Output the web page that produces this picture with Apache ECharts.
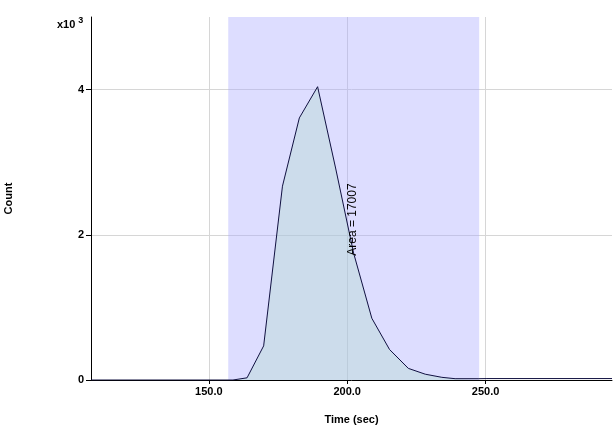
<!DOCTYPE html>
<html>
<head>
<meta charset="utf-8">
<script src="https://cdn.jsdelivr.net/npm/echarts@6/dist/echarts.min.js"></script>
<style>
  html, body { margin: 0; padding: 0; background: #fff; }
  #main { width: 614px; height: 429px; }
</style>
</head>
<body>
<div id="main"></div>
<script>
// time (sec) and count
var times = [107.4, 158.7, 163.8, 169.8, 176.6, 182.7, 189.3, 195.8, 202.3, 208.9, 215.3, 222.1, 228.2, 234.2, 239.0, 247.3, 250.5, 295.7];
var counts = [0, 0, 30, 470, 2670, 3610, 4040, 2920, 1750, 850, 420, 160, 80, 37, 18, 18, 20, 20];

// integration window and its result
var areaStart = 157.0;
var areaEnd = 247.7;
var areaText = 'Area = 17007';

var xTicks = [150, 200, 250];
var yTicks = [0, 2000, 4000];

var font = 'Liberation Sans, Arial, sans-serif';

var lineData = [];
var fillData = [];
for (var i = 0; i < times.length; i++) {
	lineData.push([times[i], counts[i]]);
	if (times[i] >= areaStart && times[i] <= areaEnd) {
		fillData.push([times[i], counts[i]]);
	}
}

var myChart = echarts.init(document.getElementById('main'));

var option = {
	animation: false,
	backgroundColor: '#ffffff',
	grid: { left: 91, right: 2, top: 17, bottom: 49, containLabel: false, outerBoundsMode: 'none' },
	xAxis: {
		type: 'value',
		min: 107.4,
		max: 295.7,
		name: 'Time (sec)',
		nameLocation: 'middle',
		nameGap: 34,
		nameTextStyle: { fontFamily: font, fontWeight: 'bold', fontSize: 11, color: '#000' },
		axisLine: { onZero: false, lineStyle: { color: '#000', width: 1 } },
		axisTick: { show: true, length: 4, customValues: xTicks, lineStyle: { color: '#000' } },
		axisLabel: {
			customValues: xTicks,
			margin: 6,
			fontFamily: font, fontWeight: 'bold', fontSize: 11, color: '#000',
			formatter: function (v) { return v.toFixed(1); }
		},
		splitLine: { show: true, lineStyle: { color: '#d6d6d6', width: 1 } }
	},
	yAxis: {
		type: 'value',
		min: 0,
		max: 5000,
		name: 'Count',
		nameLocation: 'middle',
		nameRotate: 90,
		nameGap: 77,
		nameTextStyle: { fontFamily: font, fontWeight: 'bold', fontSize: 11, color: '#000' },
		axisLine: { show: true, lineStyle: { color: '#000', width: 1 } },
		axisTick: { show: true, length: 5, customValues: yTicks, lineStyle: { color: '#000' } },
		axisLabel: {
			customValues: yTicks,
			margin: 7,
			fontFamily: font, fontWeight: 'bold', fontSize: 11, color: '#000',
			formatter: function (v) { return String(v / 1000); }
		},
		splitLine: { show: true, lineStyle: { color: '#d6d6d6', width: 1 } }
	},
	graphic: [{
		type: 'text',
		left: 57,
		top: 16,
		style: {
			text: '{a|x10}{b|3}',
			rich: {
				a: { fontFamily: font, fontWeight: 'bold', fontSize: 11, fill: '#000', verticalAlign: 'bottom', lineHeight: 14 },
				b: { fontFamily: font, fontWeight: 'bold', fontSize: 9, fill: '#000', verticalAlign: 'top', lineHeight: 14, padding: [0, 0, 6, 3] }
			}
		}
	}],
	series: [{
		// shaded integration window
		type: 'line',
		data: [],
		silent: true,
		z: 1,
		markArea: {
			silent: true,
			itemStyle: { color: 'rgba(170, 170, 255, 0.4)' },
			data: [[{ xAxis: areaStart }, { xAxis: areaEnd }]]
		}
	}, {
		type: 'line',
		data: fillData,
		symbol: 'none',
		silent: true,
		lineStyle: { width: 0, opacity: 0 },
		areaStyle: { color: 'rgba(173, 217, 199, 0.5)' },
		z: 2
	}, {
		type: 'line',
		data: lineData,
		symbol: 'none',
		silent: true,
		lineStyle: { color: '#101040', width: 1 },
		z: 3,
		markPoint: {
			silent: true,
			symbol: 'rect',
			symbolSize: [1, 1],
			itemStyle: { color: 'rgba(0,0,0,0)' },
			data: [{ coord: [201.8, 2210] }],
			label: {
				show: true,
				formatter: areaText,
				rotate: 90,
				position: 'inside',
				fontFamily: font,
				fontSize: 12,
				color: '#000'
			}
		}
	}]
};

myChart.setOption(option);
</script>
</body>
</html>
